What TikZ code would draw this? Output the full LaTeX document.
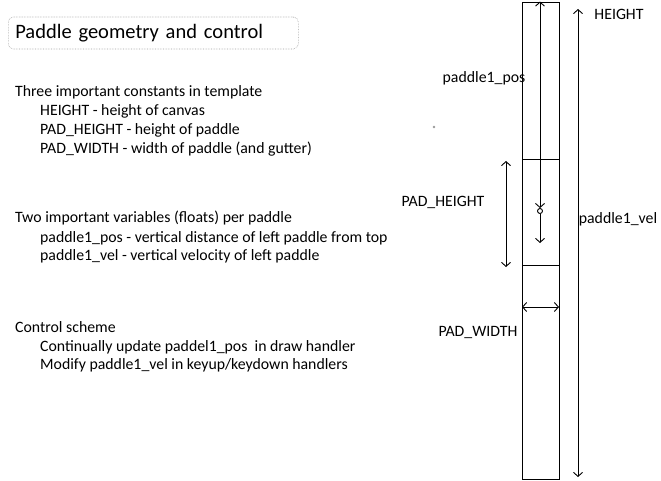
\documentclass[tikz,border=0pt]{standalone}
\usepackage{fontspec}
\setmainfont{Carlito}
\usetikzlibrary{positioning,arrows.meta}

\tikzset{
  txt/.style={anchor=west,inner sep=0pt,font=\fontsize{15.8}{18}\selectfont},
  lbl/.style={inner sep=0pt,font=\fontsize{15.8}{18}\selectfont},
  barb/.tip={Straight Barb[length=4pt,width=9pt]},
  dim/.style={barb-barb,line width=0.9pt},
  vel/.style={-barb,line width=0.9pt},
  box/.style={draw,line width=0.9pt,inner sep=0pt},
}

\begin{document}
\begin{tikzpicture}[x=1pt,y=-1pt]
    \useasboundingbox (0,0) rectangle (661,481);
    % title
    \node[draw=gray!75,densely dotted,line width=0.6pt,rounded corners=5pt,anchor=west,
          minimum width=290pt,minimum height=32pt,inner xsep=7pt,
          text width=276pt,align=left,font=\fontsize{20.5}{24}\selectfont]
          (title) at (8,33) {Paddle geometry and control};
    % left text
    \node[txt] (c0) at (15,92) {Three important constants in template};
    \node[txt] (c1) at (40,111) {HEIGHT - height of canvas};
    \node[txt] (c2) at (40,130) {PAD\_HEIGHT - height of paddle};
    \node[txt] (c3) at (40,149) {PAD\_WIDTH - width of paddle (and gutter)};
    \node[txt] (v0) at (15,218) {Two important variables (floats) per paddle};
    \node[txt] (v1) at (40,238) {paddle1\_pos - vertical distance of left paddle from top};
    \node[txt] (v2) at (40,256) {paddle1\_vel - vertical velocity of left paddle};
    \node[txt] (s0) at (15,327) {Control scheme};
    \node[txt] (s1) at (40,347) {Continually update paddel1\_pos\ \ in draw handler};
    \node[txt] (s2) at (40,365) {Modify paddle1\_vel in keyup/keydown handlers};
    % canvas and paddle
    \node[box,minimum width=37pt,minimum height=477pt] (canvas) at (540.5,240.5) {};
    \node[box,minimum width=37pt,minimum height=106pt] (paddle) at (540.5,212) {};
    \node[box,circle,minimum size=5pt,fill=white] (pos) at (540,211) {};
    \coordinate (vtip) at (540,243);
    \coordinate (ht) at (578,9);
    \coordinate (hb) at (578,477);
    \coordinate (pt) at (506,161);
    \coordinate (pb) at (506,267);
    \coordinate (wl) at (522,307);
    \coordinate (wr) at (559,307);
    \draw[dim] (pos.north |- canvas.north) -- (pos.north);
    \draw[vel] (pos.south) -- (vtip);
    \draw[dim] (ht) -- (hb);
    \draw[dim] (pt) -- (pb);
    \draw[dim] (wl) -- (wr);
    % labels
    \node[lbl] (lh) at (619,14) {HEIGHT};
    \node[lbl] (lpos) at (484,78) {paddle1\_pos};
    \node[lbl] (lph) at (443,202) {PAD\_HEIGHT};
    \node[lbl] (lvel) at (618,219) {paddle1\_vel};
    \node[lbl] (lpw) at (478,332) {PAD\_WIDTH};
    \fill[gray!80] (434,127) circle (1.3pt);
\end{tikzpicture}
\end{document}
